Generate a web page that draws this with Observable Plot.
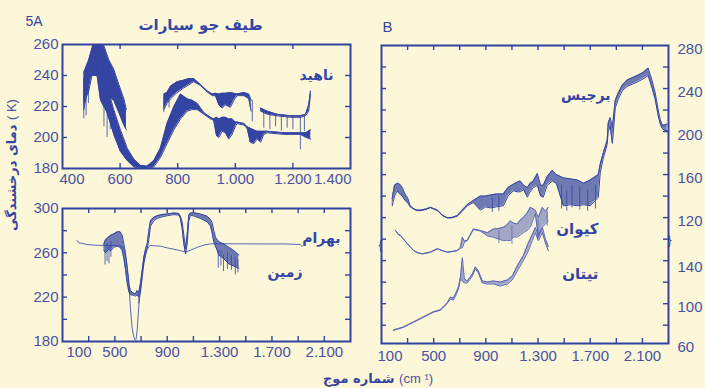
<!DOCTYPE html>
<html><head><meta charset="utf-8">
<script src="https://cdn.jsdelivr.net/npm/d3@7"></script>
<script src="https://cdn.jsdelivr.net/npm/@observablehq/plot@0.6"></script>
<style>
body{margin:0;background:#fbf7d8;}
#root{position:relative;width:705px;height:388px;overflow:hidden;background:#fbf7d8;font-family:"Liberation Sans",Arial,sans-serif;}
#root svg{position:absolute;background:transparent;overflow:visible;}
.fa{position:absolute;white-space:nowrap;color:#3543a0;font-family:"DejaVu Sans",sans-serif;font-weight:bold;font-size:13px;}
.fa .lat{font-family:"Liberation Sans",Arial,sans-serif;font-weight:normal;color:#4b53a3;}
</style></head><body><div id="root"></div>
<script>
// ---------- tick values & labels ----------
const aTopXTicks = [400, 600, 800, 1000, 1200, 1400];
const aTopXLabels = ["400", "600", "800", "1.000", "1.200", "1.400"];
const aTopYTicks = [180, 200, 220, 240, 260];
const aBotXTicks = [100, 500, 900, 1300, 1700, 2100];
const aBotXLabels = ["100", "500", "900", "1.300", "1.700", "2.100"];
const aBotYTicks = [180, 220, 260, 300];
const bXTicks = [100, 500, 900, 1300, 1700, 2100];
const bXLabels = ["100", "500", "900", "1.300", "1.700", "2.100"];
const bYUpper = [280, 240, 200, 160, 120];
const bYLower = [140, 100, 60];

// ---------- text ----------
const titleText = "طیف جو سیارات";
const panelA = "5A", panelB = "B";
const nameVenus = "ناهید", nameMars = "بهرام", nameEarth = "زمین";
const nameJupiter = "برجیس", nameSaturn = "کیوان", nameTitan = "تیتان";

// ---------- data: [wavenumber, low K, high K] ----------
const venusA1 = [[474,222,242],[491,230,250],[509,246,262],[526,250,264],[544,238,259],[561,226,250],[578,224,244],[596,216,234],[613,208,225],[622,205,218]];
const venusA2 = [[752,218,228],[763,222,229],[775,225,233],[798,229,236],[821,232,237],[839,234,238],[856,236,238],[879,233.5,234.2],[902,229.5,230.2],[920,227,228],[931,227,228.5],[943,221,228],[954,219,228.5],[966,221,228.5],[983,219.5,229],[995,224,228.5],[1006,227,228],[1030,227,229],[1047,225,228],[1055,217,224]];
const venusA3 = [[1088,217,219],[1111,215,217],[1145,214,215],[1192,213,214],[1226,213,214],[1244,214,215],[1255,217,221],[1261,228,230]];
const venusB = [[474,218,237],[497,240,248],[520,240,253],[532,224,246],[555,216,233],[578,202,218],[601,191,205],[625,185,193],[648,181,186],[671,180,182],[694,180,181.5],[717,181,185],[740,187,193],[763,196,209],[787,205,220],[810,212,228],[833,217,225],[850,218,224],[868,218,222],[891,215,216],[914,212,213],[925,211,212],[935,201,213],[943,200,212],[954,204,213],[966,203,213],[977,199,212],[989,202,212],[1000,207,210],[1006,209,210],[1030,208,209],[1041,206,207],[1052,197,206],[1064,196,205],[1076,199,204],[1088,197,204],[1099,202,204],[1111,203,204],[1169,202,203],[1226,202,203],[1245,200,203],[1262,199,205]];
const venusSpikes = [[474,212,238],[482,214,240],[490,222,244],[544,207,230],[555,200,225],[566,205,222],[752,216,226],[770,219,229],[1059,210,224],[1099,206,217],[1120,205,216],[1140,207,215],[1160,204,214],[1180,206,214],[1200,205,214],[1226,192,214],[1240,204,214]];

const earth = [[416,262,268],[430,260,272],[450,263,274],[470,262,276],[492,265,277],[518,266,279],[540,265,279],[556,262,276],[569,255,268],[581,245,260],[594,233,246],[607,225,232],[619,222,226],[632,222,224.5],[645,221.5,223.5],[658,221,223],[670,222,226],[683,220,224],[695,224,232],[709,238,244],[721,250,256],[734,258,263],[747,264,268],[760,272,280],[772,284,289],[798,289,292],[823,291,293.5],[860,292.5,294.5],[900,293.5,295],[951,294.5,296],[989,294,295.5],[1001,291,293],[1014,282,288],[1027,268,276],[1040,259,264],[1052,268,276],[1065,289,294],[1078,294,296],[1110,293,296],[1154,291,295],[1205,288,293],[1231,284,290],[1243,278,287],[1256,270,280],[1269,266,274],[1282,262,272],[1294,258,270],[1330,255,268],[1370,250,265],[1409,248,262],[1447,246,258]];
const earthSpikes = [[425,249,262],[440,252,268],[455,250,266],[470,256,270],[683,214,224],[1290,246,262],[1310,248,262],[1330,243,258],[1360,245,260],[1390,244,258],[1420,240,256],[1440,242,254]];
// Mars: [wavenumber, K]
const mars = [[212,271.1],[225,269],[250,268.5],[288,267.5],[365,266.8],[441,266.6],[518,266.6],[556,265.5],[569,263],[581,258],[594,248],[607,233.5],[619,210],[632,192],[645,184],[655,181],[662,182],[670,190],[683,212],[696,228],[709,242],[721,252],[734,259],[747,263],[760,265.5],[772,266.6],[850,266],[900,264.5],[960,263],[1000,262],[1040,260.6],[1080,262.5],[1130,265],[1180,267],[1231,268.1],[1300,268.2],[1409,268.1],[1500,268.1],[1664,268],[1800,268],[1918,267.5],[1931,265.5]];

// Jupiter & Saturn on the upper scale of panel B
const jupiter = [[182,131,138],[200,140,150],[220,145,152],[240,142,151],[260,140,148],[280,136,142],[300,134,138.6],[320,130,131],[345,128,128.5],[370,126.5,127],[399,126.5,127],[440,127.5,128],[475,129.3,129.6],[529,126.5,127],[570,121.5,122],[605,119.7,120],[640,119.7,120.2],[682,121.5,122],[720,126,127],[758,131,132],[804,134,136],[858,127,140],[900,130,140],[935,129,141],[980,130,142],[1034,131,142],[1070,140,148],[1111,145,151],[1140,144,153],[1164,144,154],[1190,146,150],[1218,139,148],[1240,144,152],[1264,148,154],[1295,150,161],[1320,140,150],[1340,139,150],[1370,150,158],[1409,154,164],[1440,152,160],[1494,131,157],[1550,132,156],[1601,131,155],[1650,132,152],[1700,131,155],[1762,139,160],[1777,162,170],[1800,175,180],[1830,188,192],[1838,200,208],[1853,205,213],[1870,189,204],[1892,222,229],[1915,230,236],[1945,238,243],[1984,242,248],[2022,244,250],[2060,246,252],[2106,249,255],[2144,252,259],[2175,240,247],[2198,230,236],[2221,215,220],[2237,207,211],[2252,203,206],[2270,201,206],[2290,201,207]];
const jupiterSpikes = [[950,125,138],[1000,126,140],[1480,128,150],[1520,126,145],[1560,129,150],[1620,127,148],[1680,126,146],[1740,128,150]];
const saturn = [[207,107.9,108.2],[230,104,104.4],[245,103.3,103.6],[299,95.5,95.9],[345,89.3,89.6],[380,87,87.3],[414,86.2,86.5],[475,87.7,88],[529,90.9,91.2],[570,89,89.3],[605,87.7,88],[650,88.5,88.8],[682,89.3,89.6],[705,91.5,92.4],[720,92,102],[735,97,98],[758,98.6,99],[804,109,109.5],[858,107.5,108],[912,103,106],[958,101.7,109.5],[1000,100,110],[1034,98.6,111],[1060,99,113],[1088,98.6,117],[1110,102,115],[1141,102,114],[1165,104,118],[1187,106,120],[1215,108,124],[1241,111,129.6],[1279,124,127],[1302,101.7,120],[1333,111,129.6],[1356,114,126],[1379,117,129.6]];
const saturnSpikes = [[1000,96,108],[1100,95,112],[1300,100,118],[1370,112,125]];
// Titan on the lower scale of panel B
const titan = [[192,73,73.4],[268,76,76.4],[345,81,81.4],[422,86,86.4],[498,91,91.4],[552,93,93.4],[605,100,100.5],[628,104,106],[650,103,105],[667,107,109],[690,114,116],[705,124,126],[720,122,145],[735,120,124],[758,120,122],[797,127,129],[820,134,136],[843,130,132],[873,120,122],[912,119,121],[958,119,122],[1011,117,121],[1065,119,123],[1103,123,127],[1141,132,137],[1187,142,147],[1226,152,160],[1256,162,168],[1279,170,175],[1302,162,168],[1333,170,175],[1356,160,164],[1379,152,156]];

// ---------- style ----------
const INK = "#3444a2", FRAME = "#3142a0", THIN = "#5a66b8", TICKTXT = "#4a51a3";
const FONT = "Liberation Sans, Arial, sans-serif", FA = "DejaVu Sans, sans-serif";
// lower scale of panel B -> shared y position
const toU = t => 3 + (t - 60) * 0.9375;

function band(rows, color, op, w) {
  return [
    Plot.areaY(rows, {x: d => d[0], y1: d => d[1], y2: d => d[2], fill: color, fillOpacity: op, curve: "linear", clip: true}),
    Plot.line(rows, {x: d => d[0], y: d => d[1], stroke: color, strokeWidth: w, clip: true}),
    Plot.line(rows, {x: d => d[0], y: d => d[2], stroke: color, strokeWidth: w, clip: true})
  ];
}
function spikes(rows, color) {
  return Plot.ruleX(rows, {x: d => d[0], y1: d => d[1], y2: d => d[2], stroke: color, strokeWidth: 0.8, clip: true});
}
function inner(xt, yt, iw, ih) {
  const o = {stroke: FRAME, strokeWidth: 1.4};
  return [
    Plot.ruleX(xt, {...o, insetBottom: ih - 5}),
    Plot.ruleX(xt, {...o, insetTop: ih - 5}),
    Plot.ruleY(yt, {...o, insetRight: iw - 5}),
    Plot.ruleY(yt, {...o, insetLeft: iw - 5})
  ];
}
const lab = (ticks, labels) => { const m = new Map(ticks.map((t, i) => [t, labels[i]])); return d => m.get(d); };
const axisTxt = {tickSize: 0, fontSize: 15, fontFamily: FONT, fill: TICKTXT, label: null};
const nameTxt = {fontFamily: FA, fontWeight: "bold", fontSize: 14, fill: INK};
const baseStyle = {background: "transparent", fontFamily: FONT, fontSize: "15px", color: TICKTXT, overflow: "visible"};

// x tick labels: first label starts at the frame edge, last may end at it
function xLabels(ticks, labels, pad, firstDx, lastEnd) {
  const f = lab(ticks, labels);
  const n = ticks.length;
  const marks = [
    Plot.axisX([ticks[0]], {...axisTxt, anchor: "bottom", tickPadding: pad, tickFormat: f, textAnchor: "start", dx: firstDx}),
    Plot.axisX(ticks.slice(1, lastEnd ? n - 1 : n), {...axisTxt, anchor: "bottom", tickPadding: pad, tickFormat: f})
  ];
  if (lastEnd) marks.push(Plot.axisX([ticks[n - 1]], {...axisTxt, anchor: "bottom", tickPadding: pad, tickFormat: f, textAnchor: "end", dx: 1}));
  return marks;
}

const root = document.getElementById("root");
function place(svg, left, top) { svg.style.left = left + "px"; svg.style.top = top + "px"; root.appendChild(svg); }

// ---------- panel A, top (Venus) ----------
const a1 = Plot.plot({
  width: 365, height: 190, marginLeft: 62, marginRight: 15, marginTop: 44, marginBottom: 22,
  x: {domain: [400, 1400]}, y: {domain: [180, 260]}, style: baseStyle,
  marks: [
    ...band(venusB, INK, 1, 1),
    ...band(venusA1, INK, 1, 1),
    ...band(venusA2, INK, 1, 1),
    ...band(venusA3, INK, 1, 1),
    spikes(venusSpikes, INK),
    Plot.frame({stroke: FRAME, strokeWidth: 2}),
    ...inner([600, 800, 1000, 1200], [200, 220, 240], 288, 124),
    ...xLabels(aTopXTicks, aTopXLabels, 5, -3, true),
    Plot.axisY(aTopYTicks, {...axisTxt, anchor: "left", tickPadding: 4}),
    Plot.text([nameVenus], {...nameTxt, text: d => d, frameAnchor: "top-right", dx: -17, dy: 26, textAnchor: "end"}),
    Plot.text([panelA], {text: d => d, frameAnchor: "top-left", dx: -37, dy: -28, textAnchor: "start", fontFamily: FONT, fontSize: 14, fill: INK}),
    Plot.text([titleText], {...nameTxt, fontSize: 15, text: d => d, frameAnchor: "top", dx: -6, dy: -25})
  ]
});
place(a1, 0, 0);

// ---------- panel A, bottom (Mars, Earth) ----------
const a2 = Plot.plot({
  width: 365, height: 198, marginLeft: 62, marginRight: 15, marginTop: 18, marginBottom: 47,
  x: {domain: [100, 2300]}, y: {domain: [180, 300]}, style: baseStyle,
  marks: [
    Plot.line(mars, {x: d => d[0], y: d => d[1], stroke: THIN, strokeWidth: 1, clip: true}),
    ...band(earth, INK, 0.7, 1),
    spikes(earthSpikes, INK),
    Plot.frame({stroke: FRAME, strokeWidth: 2}),
    ...inner(d3.range(300, 2300, 200), [200, 220, 240, 260, 280], 288, 133),
    ...xLabels(aBotXTicks, aBotXLabels, 5, 4, false),
    Plot.axisY(aBotYTicks, {...axisTxt, anchor: "left", tickPadding: 4}),
    Plot.text([nameMars], {...nameTxt, text: d => d, frameAnchor: "top-right", dx: -10, dy: 25, textAnchor: "end"}),
    Plot.text([nameEarth], {...nameTxt, text: d => d, frameAnchor: "top-right", dx: -48, dy: 59, textAnchor: "end"})
  ]
});
place(a2, 0, 190);

// ---------- panel B (Jupiter, Saturn, Titan) ----------
const bTicks = [...bYUpper, ...bYLower.map(toU)];
const bLabels = [...bYUpper, ...bYLower].map(String);
const b = Plot.plot({
  width: 345, height: 388, marginLeft: 21, marginRight: 37, marginTop: 45, marginBottom: 45,
  x: {domain: [100, 2300]}, y: {domain: [3, 280]}, style: baseStyle,
  marks: [
    ...band(titan.map(([w, lo, hi]) => [w, toU(lo), toU(hi)]), THIN, 0.55, 1),
    ...band(saturn, THIN, 0.55, 1),
    spikes(saturnSpikes, THIN),
    ...band(jupiter, INK, 0.7, 1),
    spikes(jupiterSpikes, INK),
    Plot.frame({stroke: FRAME, strokeWidth: 2}),
    ...inner(d3.range(300, 2300, 200), d3.range(20, 280, 20), 287, 298),
    ...xLabels(bXTicks, bXLabels, 7, -4, false),
    Plot.axisY(bTicks, {...axisTxt, anchor: "right", tickPadding: 9, dy: 4, tickFormat: lab(bTicks, bLabels)}),
    Plot.text([99], {y: d => d, text: () => "}", frameAnchor: "right", dx: 3, fontSize: 12, fill: FRAME}),
    Plot.text([94], {y: d => d, text: () => "{", frameAnchor: "left", dx: -3, fontSize: 12, fill: FRAME}),
    Plot.text([nameJupiter], {...nameTxt, text: d => d, frameAnchor: "top-right", dx: -58, dy: 45, textAnchor: "end"}),
    Plot.text([nameSaturn], {...nameTxt, fontSize: 15, text: d => d, frameAnchor: "top-right", dx: -70, dy: 178, textAnchor: "end"}),
    Plot.text([nameTitan], {...nameTxt, fontSize: 15, text: d => d, frameAnchor: "top-right", dx: -70, dy: 223, textAnchor: "end"}),
    Plot.text([panelB], {text: d => d, frameAnchor: "top-left", dx: 1, dy: -24, textAnchor: "start", fontFamily: FONT, fontSize: 15, fill: INK})
  ]
});
place(b, 360, 0);

// ---------- shared axis titles ----------
const yl = document.createElement("div");
yl.className = "fa";
yl.dir = "ltr";
yl.innerHTML = 'دمای درخشندگی <span class="lat">( K)</span>';
yl.style.left = "11px"; yl.style.top = "165px";
yl.style.transform = "translate(-50%,-50%) rotate(-90deg)";
root.appendChild(yl);

const xl = document.createElement("div");
xl.className = "fa";
xl.dir = "ltr";
xl.innerHTML = 'شماره موج <span class="lat">(cm ¹)</span>';
xl.style.left = "378px"; xl.style.top = "378px";
xl.style.transform = "translate(-50%,-50%)";
root.appendChild(xl);
</script></body></html>
